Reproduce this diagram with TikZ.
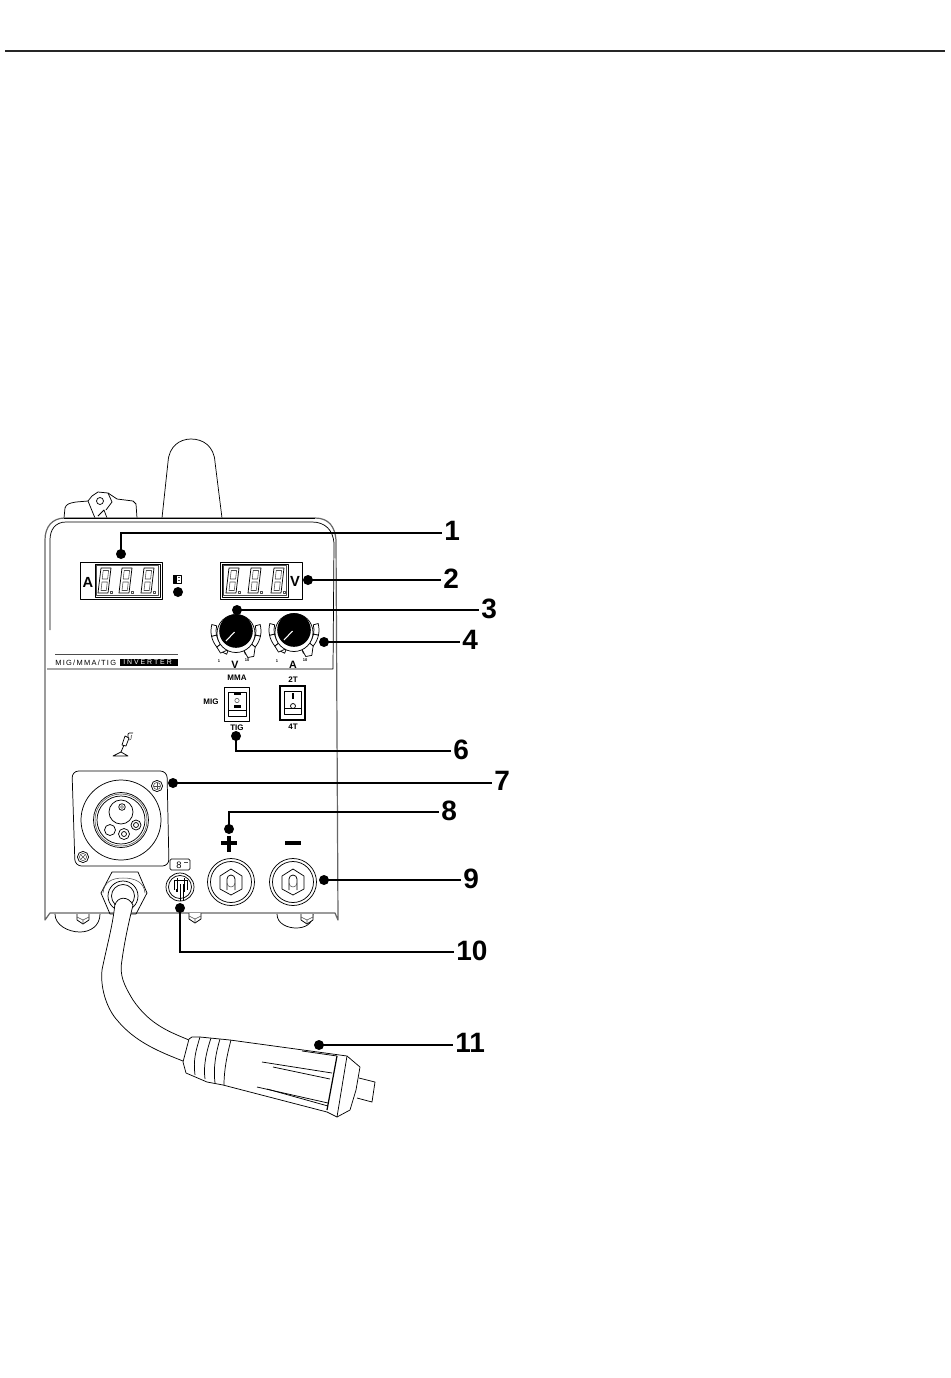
\documentclass[tikz,border=0pt]{standalone}
\usepackage{fontspec}
\setmainfont{Liberation Sans}
\usetikzlibrary{calc}
\tikzset{
  ln/.style={draw=black,line width=0.55pt,line join=round},
  thn/.style={draw=black!70,line width=0.4pt,line join=round},
  grayln/.style={draw=black!60,line width=0.9pt,line join=round},
  leader/.style={draw=black,line width=1.5pt},
  dotn/.style={circle,fill=black,inner sep=0pt,minimum size=7.5pt},
  num/.style={font=\fontsize{21}{21}\selectfont\bfseries,inner ysep=0pt,inner xsep=1.5pt,anchor=west,
     execute at begin node={\rule[-2.6pt]{0pt}{1pt}}},
  small/.style={font=\fontsize{6}{6}\selectfont\bfseries,inner sep=0pt},
  tiny/.style={font=\fontsize{3}{3}\selectfont\bfseries,inner sep=0pt},
  panelL/.style={font=\fontsize{11}{11}\selectfont\bfseries,inner sep=0pt},
}
\newcommand{\segdigit}[2]{%
  \begin{scope}[shift={(#1,#2)}]
    \draw[ln] (3,0) -- (13,0) -- (10,25) -- (0,25) -- cycle;
    \draw[thn,fill=white] (5.2,2.5) -- (10.6,2.5) -- (9.6,11) -- (4.2,11) -- cycle;
    \draw[thn,fill=white] (4,14) -- (9.3,14) -- (8.3,22.5) -- (3,22.5) -- cycle;
    \draw[thn] (12.5,23) rectangle (14.5,25);
  \end{scope}}
\newcommand{\knobdial}[2]{%
  \begin{scope}[shift={(#1,#2)}]
    \foreach \a/\b in {-15/12,12/40,40/68,112/140,140/168,168/195}{
      \draw[ln,fill=white] (\a:20) arc[start angle=\a,end angle=\b,radius=20] -- (\b:25)
        arc[start angle=\b,end angle=\a,radius=25] -- cycle;}
    \draw[ln,fill=white] (68:20) -- (66:29) -- (55:31) -- (40:25);
    \draw[ln,fill=white] (112:20) -- (125:27) -- (140:25);
    \draw[ln,fill=white] (0,2.5) circle[radius=19];
    \fill[black] (0,0) circle[radius=16.8];
    \draw[white,line width=0.8pt] (-10,10) -- (-1.5,1);
  \end{scope}}
\newcommand{\terminal}[2]{%
  \begin{scope}[shift={(#1,#2)}]
    \draw[ln] (0,0) circle[radius=23.5];
    \draw[ln] (0,0) circle[radius=20.5];
    \draw[ln] (-11,-6) -- (0,-13) -- (11,-6) -- (11,7) -- (0,13) -- (-11,7) -- cycle;
    \draw[ln] (-4,8) -- (-4,-3) arc[start angle=180,end angle=360,radius=4] -- (4,8);
    \draw[thn] (-4,1) arc[start angle=180,end angle=0,radius=4];
  \end{scope}}
\newcommand{\screwhead}[2]{%
  \draw[ln] (#1,#2) circle[radius=5.6];
  \draw[thn] (#1,#2) circle[radius=3.6];}
\newcommand{\hexbolt}[2]{%
  \begin{scope}[shift={(#1,#2)}]
    \draw[ln,fill=white] (-6,-4) -- (-6,2) -- (0,6) -- (6,2) -- (6,-4);
    \draw[thn] (-6,-1) -- (0,2) -- (6,-1) (0,2) -- (0,6);
  \end{scope}}
\begin{document}
\begin{tikzpicture}[x=0.75pt,y=-0.75pt]
\useasboundingbox (0,0) rectangle (950,1378);
\fill[white] (0,0) rectangle (950,1378);
% rule
\draw[draw=black!85,line width=0.9pt] (5,51) -- (945,51);

% top parts
\draw[ln] (162,518) -- (168,462) .. controls (169,446) and (180,439) .. (191,439)
  .. controls (203,439) and (214,446) .. (215,462) -- (222,518);
\draw[ln] (64,518) -- (65,508) .. controls (66,504) and (70,503) .. (76,502) -- (88,501)
  -- (92,496) -- (98,492) -- (108,493) -- (117,499) -- (133,501) -- (136,504) -- (137,518);
\draw[ln] (88,501) -- (95,518) (98,516) -- (104,510) -- (107,518) (108,493) -- (112,502) -- (106,510);
\draw[ln] (100,501) circle[radius=3.5];

% chassis
\draw[grayln,fill=white] (45,920) -- (45,540) .. controls (45,527) and (52,518) .. (65,518)
  -- (315,518) .. controls (329,518) and (335,527) .. (336,540) -- (338,920) -- (335,913) -- (50,913) -- cycle;
\draw[ln] (64,518) -- (315,518);
\draw[ln] (50,630) -- (50,540) .. controls (50,530) and (55,522) .. (66,522) -- (312,522)
  .. controls (325,522) and (333,530) .. (334,543) -- (333,669) -- (47,669);

% feet and bolts
\draw[ln] (55,914) .. controls (55,925) and (68,932) .. (80,932) .. controls (90,932) and (100,926) .. (100,914);
\draw[ln] (277,914) .. controls (277,924) and (288,928) .. (296,928) .. controls (305,928) and (313,924) .. (313,914);
\hexbolt{83}{918}
\hexbolt{195}{917}
\hexbolt{307}{918}

% displays
\draw[ln] (80,562) rectangle (162,599);
\draw[ln] (95,564) rectangle (160,597);
\draw[thn] (96.5,565.5) rectangle (158.5,595.5);
\draw[ln] (220,562) rectangle (302,599);
\draw[ln] (222,564) rectangle (288,597);
\draw[thn] (223.5,565.5) rectangle (286.5,595.5);
\segdigit{98}{568}\segdigit{119}{568}\segdigit{141}{568}
\segdigit{226}{568}\segdigit{248}{568}\segdigit{271}{568}
\node[panelL] (lblA) at (88,582) {A};
\node[panelL] (lblV) at (295,581) {V};
\draw[ln] (173,575) rectangle (181,583);
\fill[black] (173,575) rectangle (177,583);
\draw[thn] (178,577) -- (180,577) (178,580) -- (180,580);
\fill[black] (178,592) circle[radius=5];

% knobs
\knobdial{236}{631}
\knobdial{294}{630}
\node[tiny] (k1) at (219,661) {1};
\node[tiny] (k2) at (247,660) {10};
\node[tiny] (k3) at (277,661) {1};
\node[tiny] (k4) at (305,660) {10};
\node[panelL,font=\fontsize{8}{8}\selectfont\bfseries] (kV) at (235,665) {V};
\node[panelL,font=\fontsize{8}{8}\selectfont\bfseries] (kA) at (293,665) {A};

% logo
\draw[thn] (55,654) -- (178,654);
\fill[black] (120,659) rectangle (178,666);
\node[inner sep=0pt,anchor=west,font=\fontsize{5.6}{5.6}\selectfont\addfontfeature{LetterSpace=17}] (logoA) at (55,662.5) {MIG/MMA/TIG};
\node[inner sep=0pt,anchor=west,text=white,font=\fontsize{5.2}{5.2}\selectfont\addfontfeature{LetterSpace=28}] (logoB) at (123,662.5) {INVERTER};

% switches
\node[small] (mma) at (237,678) {MMA};
\node[small] (mig) at (211,702) {MIG};
\node[small] (tig) at (237,728) {TIG};
\node[small] (tt) at (293,680) {2T};
\node[small] (ft) at (293,727) {4T};
\draw[ln] (224,687) rectangle (249,721);
\draw[ln] (228,692) rectangle (246,716);
\draw[ln] (228,710) -- (246,710);
\fill[black] (234,693) rectangle (241,694.5);
\draw[thn] (237,700.5) circle[radius=2.2];
\fill[black] (234,705) rectangle (241,708);
\draw[line width=0.9pt] (280,686) rectangle (305,720);
\draw[ln] (284,691) rectangle (301,714);
\draw[ln] (284,708) -- (301,708);
\fill[black] (292,693) rectangle (293.5,699);
\draw[ln] (293,706) circle[radius=2.5];

% torch icon
\draw[ln] (113,756) -- (121,752) -- (128,756) -- cycle;
\draw[ln] (121,752) -- (124,745);
\draw[ln] (122,745) -- (126,746) -- (129,738) -- (125,736) -- cycle;
\draw[ln] (128,737) .. controls (127,732) and (130,733) .. (133,733);
\draw[thn] (129,740) .. controls (133,740) and (130,735) .. (132,735);

% XLR panel
\draw[ln,rounded corners=5pt] (72,771) -- (167,771) -- (169,866) -- (75,866) -- cycle;
\draw[ln] (121,820) circle[radius=40];
\draw[ln] (121,820) circle[radius=27.5];
\draw[thn] (121,820) circle[radius=26];
\draw[ln] (121,820) circle[radius=24];
\draw[ln] (121,812) circle[radius=12];
\draw[ln] (122,807) circle[radius=3.3];
\draw[thn] (122,807) circle[radius=1.5];
\draw[ln] (110,830) circle[radius=5.5];
\draw[ln] (124,834) circle[radius=5.5];
\draw[ln] (124,834) circle[radius=2.5];
\draw[ln] (136,825) circle[radius=5];
\draw[ln] (136,825) circle[radius=2.5];
\screwhead{157}{786}
\draw[thn] (154,786) -- (160,786) (157,783) -- (157,789);
\screwhead{83}{857}
\draw[thn] (81,855) -- (85,859) (85,855) -- (81,859);

% polarity signs
\draw[line width=2.7pt] (221,843) -- (237,843) (229,836) -- (229,852);
\draw[line width=2.7pt] (285,843) -- (301,843);
\terminal{231}{882}
\terminal{293}{882}

% control socket
\draw[ln,rounded corners=1pt] (170,859) rectangle (190,870);
\node[inner sep=0pt,font=\fontsize{7}{7}\selectfont] (cs) at (179,865) {8};
\draw[thn] (184,862) -- (188,862);
\draw[ln] (180,887) circle[radius=14];
\draw[ln] (180,887) circle[radius=11.5];
\draw[ln] (174,880) -- (174,890) (187,880) -- (187,890) (174,880) -- (187,880);
\draw[ln] (177,878) -- (177,890) (184,878) -- (184,890);
\fill[black] (176,889) rectangle (178,892);
\fill[black] (183,889) rectangle (185,892);
\draw[ln] (180,884) -- (180,901) (183,884) -- (183,901);

% cable gland
\draw[ln] (112,872) -- (138,872) -- (147,893) -- (136,914) -- (110,914) -- (101,893) -- cycle;
\draw[thn] (103,893) .. controls (104,882) and (112,878) .. (123,878) .. controls (135,878) and (144,882) .. (145,893);
\draw[ln] (123,896) circle[radius=15];
\draw[ln] (123,896) circle[radius=11.5];

% cable
\fill[white] (115,903) .. controls (113,925) and (107,945) .. (102,970)
 .. controls (100,990) and (108,1010) .. (117,1020) .. controls (135,1042) and (160,1052) .. (183,1061)
 -- (189,1040) .. controls (170,1032) and (150,1025) .. (133,1000)
 .. controls (124,985) and (119,975) .. (122,960) .. controls (124,945) and (128,925) .. (133,905)
 .. controls (130,895) and (118,895) .. (115,903) -- cycle;
\draw[ln] (115,903) .. controls (113,925) and (107,945) .. (102,970)
 .. controls (100,990) and (108,1010) .. (117,1020) .. controls (135,1042) and (160,1052) .. (183,1061);
\draw[ln] (189,1040) .. controls (170,1032) and (150,1025) .. (133,1000)
 .. controls (124,985) and (119,975) .. (122,960) .. controls (124,945) and (128,925) .. (133,905);
\draw[ln] (115,905) .. controls (117,897) and (128,895) .. (133,905);

% plug
\draw[ln,fill=white] (359,1078) -- (375,1082) -- (372,1102) -- (357,1098);
\draw[ln,fill=white] (189,1039) -- (192,1037) -- (200,1037) -- (230,1040) -- (347,1056) -- (360,1067)
  -- (356,1090) -- (350,1110) -- (337,1117) -- (327,1112) -- (223,1085) -- (207,1082) -- (186,1073) -- (183,1062) -- cycle;
\draw[ln] (200,1037) .. controls (196,1050) and (193,1060) .. (195,1075);
\draw[ln] (211,1038) .. controls (207,1050) and (203,1065) .. (205,1079);
\draw[ln] (220,1039) .. controls (216,1052) and (213,1068) .. (215,1083);
\draw[ln] (231,1040) .. controls (227,1055) and (224,1070) .. (224,1085);
\draw[line width=0.9pt] (337,1056) -- (327,1110);
\draw[ln] (347,1056) -- (337,1117);
\draw[ln] (302,1051) -- (337,1056);
\draw[ln] (262,1062) -- (332,1073);
\draw[ln] (273,1067) -- (330,1079);
\draw[ln] (257,1087) -- (328,1103);
\draw[ln] (267,1089) -- (328,1106);

% leaders
\node[dotn] (d1) at (121,554) {};
\node[dotn] (d2) at (308,580) {};
\node[dotn] (d3) at (237,610) {};
\node[dotn] (d4) at (324,642) {};
\node[dotn] (d6) at (236,736) {};
\node[dotn] (d7) at (173,783) {};
\node[dotn] (d8) at (229,829) {};
\node[dotn] (d9) at (324,880) {};
\node[dotn] (d10) at (180,908) {};
\node[dotn] (d11) at (319,1045) {};
\node[num] (n1) at (442,533) {1};
\node[num] (n2) at (441,580) {2};
\node[num] (n3) at (479,610) {3};
\node[num] (n4) at (460,642) {4};
\node[num] (n6) at (451,751) {6};
\node[num] (n7) at (492,783) {7};
\node[num] (n8) at (439,812) {8};
\node[num] (n9) at (461,880) {9};
\node[num] (n10) at (454,952) {10};
\node[num] (n11) at (453,1045) {11};
\draw[leader] (d1.center) |- (n1.west);
\draw[leader] (d2.center) -- (n2.west);
\draw[leader] (d3.center) -- (n3.west);
\draw[leader] (d4.center) -- (n4.west);
\draw[leader] (d6.center) |- (n6.west);
\draw[leader] (d7.center) -- (n7.west);
\draw[leader] (d8.center) |- (n8.west);
\draw[leader] (d9.center) -- (n9.west);
\draw[leader] (d10.center) |- (n10.west);
\draw[leader] (d11.center) -- (n11.west);
\end{tikzpicture}
\end{document}
